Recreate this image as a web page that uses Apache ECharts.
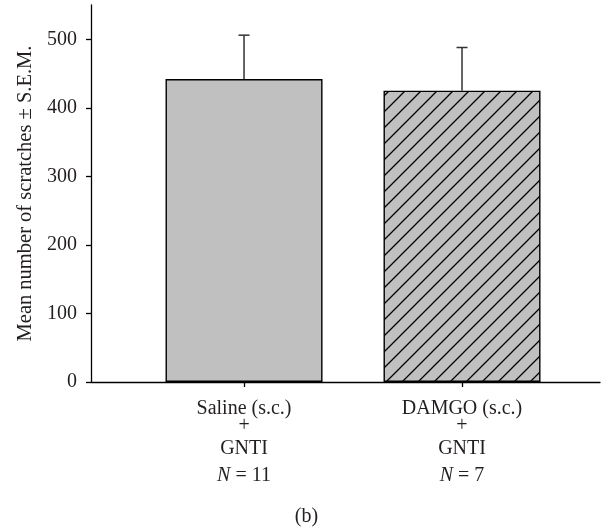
<!DOCTYPE html>
<html>
<head>
<meta charset="utf-8">
<script src="https://cdn.jsdelivr.net/npm/echarts@6/dist/echarts.min.js"></script>
<style>html,body{margin:0;padding:0;background:#fff}#c{width:613px;height:527px}</style>
</head>
<body>
<div id="c"></div>
<script>
// Data
var categories = ['Saline (s.c.)', 'DAMGO (s.c.)'];
var drugs = ['GNTI', 'GNTI'];
var nValues = [11, 7];
var means = [442, 425];
var sems = [64, 63];
var yTicks = [0, 100, 200, 300, 400, 500];

var FONT = '"Liberation Serif", "DejaVu Serif", serif';
var TXT = '#231f20';

// hatch pattern tile
var tile = document.createElement('canvas');
tile.width = 16; tile.height = 16;
var g = tile.getContext('2d');
g.fillStyle = '#c0c0c0';
g.fillRect(0, 0, 16, 16);
g.strokeStyle = '#000';
g.lineWidth = 1.3;
g.beginPath();
g.moveTo(-2, 18); g.lineTo(18, -2);
g.moveTo(-2, 2); g.lineTo(2, -2);
g.moveTo(14, 18); g.lineTo(18, 14);
g.stroke();

var positions = categories.map(function (c, i) { return i + 1; });
var barData = means.map(function (m, i) {
  var item = { value: [positions[i], m] };
  if (i === 1) item.itemStyle = { color: { image: tile, repeat: 'repeat' } };
  return item;
});
var errData = means.map(function (m, i) { return [positions[i], m, m + sems[i]]; });

var chart = echarts.init(document.getElementById('c'), null, { renderer: 'canvas' });
chart.setOption({
  animation: false,
  backgroundColor: '#fff',
  title: {
    text: '(b)', left: 'center', top: 502,
    textStyle: { fontFamily: FONT, fontWeight: 'normal', fontSize: 20, color: TXT }
  },
  grid: { left: 91, right: 13, top: 5, bottom: 145 },
  xAxis: {
    type: 'value', min: 0.298, max: 2.633,
    splitLine: { show: false },
    axisLine: { show: true, onZero: false, lineStyle: { color: '#000', width: 1.3 } },
    axisTick: { show: true, customValues: positions, length: 5, inside: false, lineStyle: { color: '#000', width: 1.3 } },
    axisLabel: {
      customValues: positions, margin: 17,
      formatter: function (v) {
        var i = Math.round(v) - 1;
        if (i < 0 || i >= categories.length) return '';
        return '{a|' + categories[i] + '}\n{b|+}\n{c|' + drugs[i] + '}\n{i|N}{d| = ' + nValues[i] + '}';
      },
      rich: {
        a: { fontFamily: FONT, fontSize: 20, color: TXT, lineHeight: 20, align: 'center' },
        b: { fontFamily: FONT, fontSize: 20, color: TXT, lineHeight: 14, align: 'center' },
        c: { fontFamily: FONT, fontSize: 20, color: TXT, lineHeight: 32, align: 'center' },
        i: { fontFamily: FONT, fontSize: 20, color: TXT, lineHeight: 22, fontStyle: 'italic' },
        d: { fontFamily: FONT, fontSize: 20, color: TXT, lineHeight: 22 }
      }
    }
  },
  yAxis: {
    type: 'value', min: 0, max: 550,
    name: 'Mean number of scratches ± S.E.M.',
    nameLocation: 'middle', nameGap: 50, nameRotate: 90,
    nameTextStyle: { fontFamily: FONT, fontSize: 20.5, color: TXT },
    splitLine: { show: false },
    axisLine: { show: true, lineStyle: { color: '#000', width: 1.3 } },
    axisTick: { show: true, customValues: yTicks, length: 5, lineStyle: { color: '#000', width: 1.3 } },
    axisLabel: {
      customValues: yTicks, margin: 14,
      fontFamily: FONT, fontSize: 20, color: TXT,
      formatter: function (v) { return v > 500 ? '' : String(v); }
    }
  },
  series: [
    {
      type: 'bar', barWidth: 157, data: barData,
      itemStyle: { color: '#c0c0c0', borderColor: '#000', borderWidth: 1.4 },
      z: 2
    },
    {
      type: 'custom', data: errData, z: 3,
      renderItem: function (params, api) {
        var x = api.value(0);
        var p0 = api.coord([x, api.value(1)]);
        var p1 = api.coord([x, api.value(2)]);
        var hw = 5.5;
        return {
          type: 'group',
          children: [
            { type: 'line', shape: { x1: p0[0], y1: p0[1], x2: p1[0], y2: p1[1] }, style: { stroke: '#333', lineWidth: 1.5 } },
            { type: 'line', shape: { x1: p1[0] - hw, y1: p1[1], x2: p1[0] + hw, y2: p1[1] }, style: { stroke: '#333', lineWidth: 1.5 } }
          ]
        };
      }
    }
  ]
});
</script>
</body>
</html>
